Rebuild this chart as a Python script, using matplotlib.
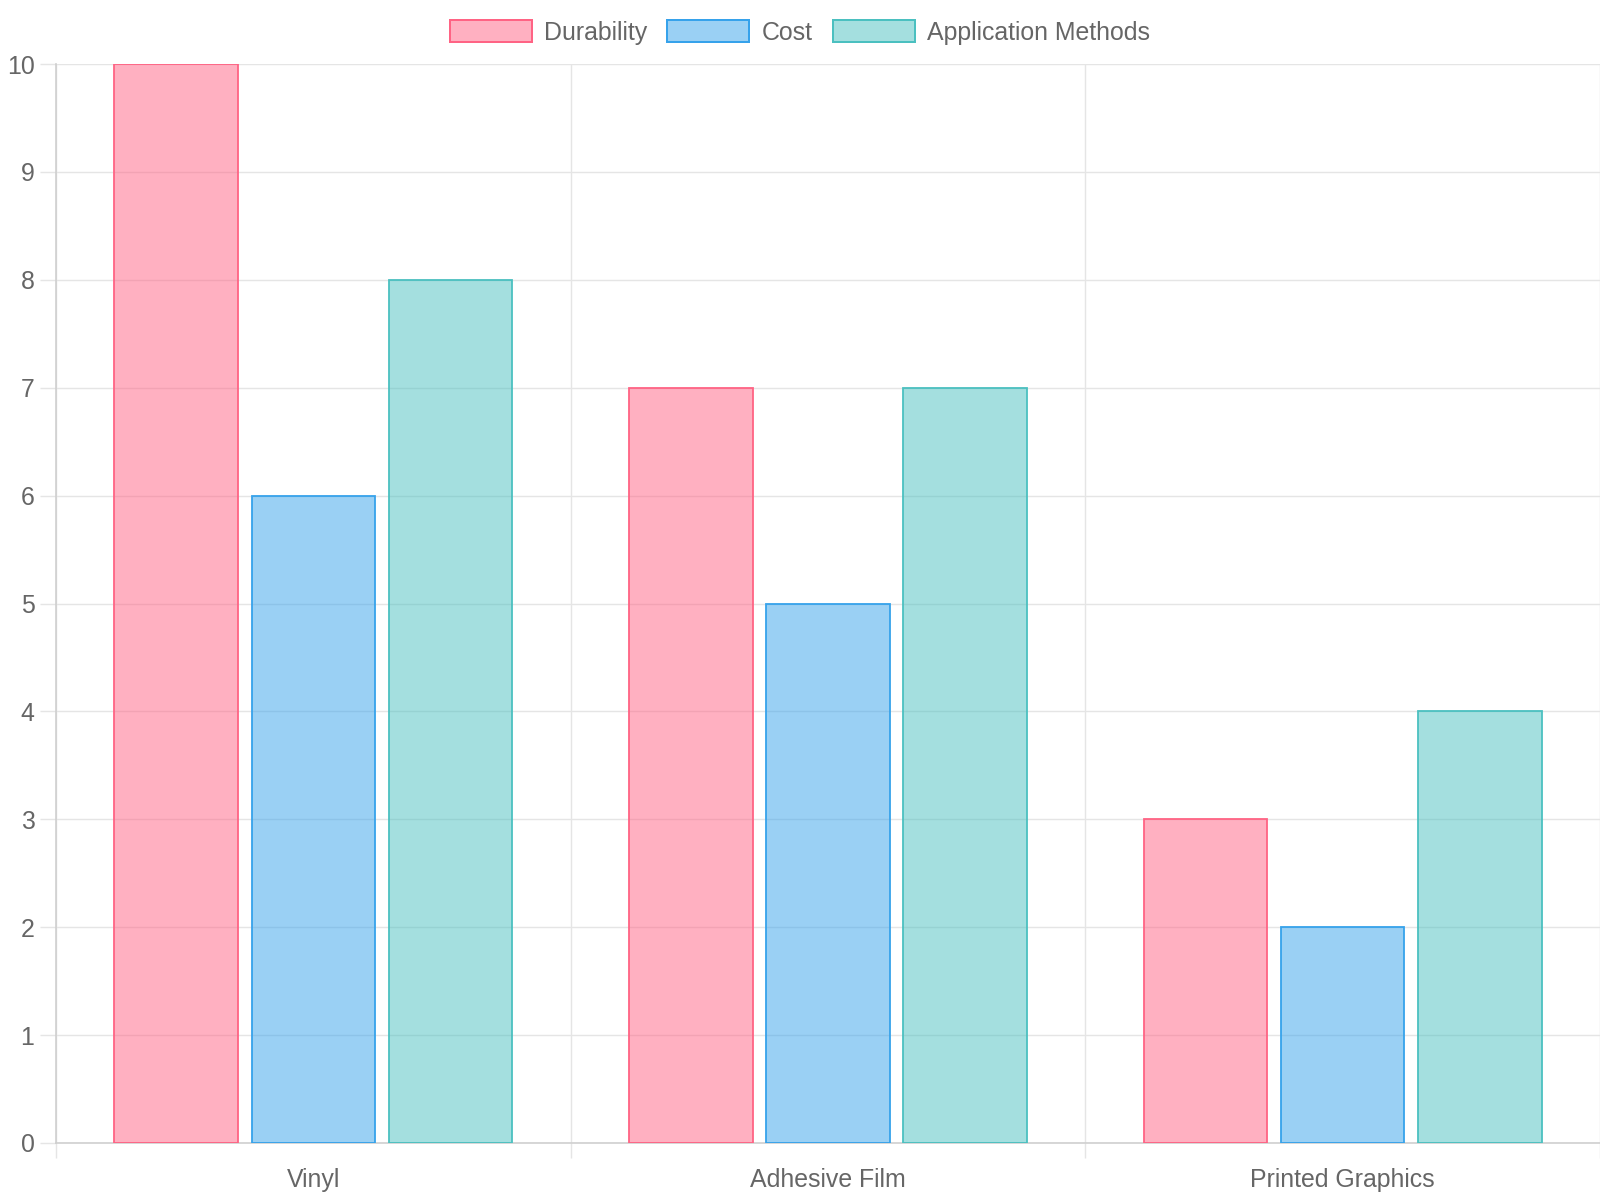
import numpy as np
import matplotlib.pyplot as plt
from matplotlib.patches import Patch

plt.rcParams['font.family'] = ['Liberation Sans', 'DejaVu Sans']

categories = ["Vinyl", "Adhesive Film", "Printed Graphics"]
series_names = ["Durability", "Cost", "Application Methods"]
durability = [10, 7, 3]
cost = [6, 5, 2]
application = [8, 7, 4]
y_ticks = [0, 1, 2, 3, 4, 5, 6, 7, 8, 9, 10]

edge_colors = [(1, 99/255, 132/255), (54/255, 162/255, 235/255), (75/255, 192/255, 192/255)]
fill_colors = [c + (0.5,) for c in edge_colors]

grid_col = "#e5e5e5"
axis_col = "#cfcfcf"
text_col = "#666666"
fs = 17.9

fig = plt.figure(figsize=(16, 12), dpi=100)
ax = fig.add_axes([56/1600, 1 - 1143/1200, 1 - 56/1600, (1143 - 64)/1200])

x = np.arange(len(categories)) + 0.5
slot = 0.8 / 3
bw = slot * 0.9
all_vals = [durability, cost, application]
for i, vals in enumerate(all_vals):
    ax.bar(x + (i - 1) * slot, vals, width=bw, color=fill_colors[i],
           edgecolor=edge_colors[i], linewidth=1.3, zorder=3)

ax.set_xlim(0, len(categories))
ax.set_ylim(0, 10)

ax.set_yticks(y_ticks)
ax.set_yticklabels([str(t) for t in y_ticks])
ax.set_xticks(x)
ax.set_xticklabels(categories)
ax.set_xticks(np.arange(len(categories) + 1), minor=True)

ax.tick_params(axis='y', length=11.5, width=1, color=grid_col, pad=4,
               labelsize=fs, labelcolor=text_col)
ax.tick_params(axis='x', which='major', length=0, pad=18,
               labelsize=fs, labelcolor=text_col)
ax.tick_params(axis='x', which='minor', length=11, width=1, color=grid_col)

ax.grid(axis='y', color=grid_col, linewidth=1, zorder=0)
ax.grid(axis='x', which='minor', color=grid_col, linewidth=1, zorder=0)
ax.set_axisbelow(True)

for s in ['top', 'right']:
    ax.spines[s].set_visible(False)
ax.spines['left'].set_color(axis_col)
ax.spines['bottom'].set_color(axis_col)
ax.spines['left'].set_linewidth(1.2)
ax.spines['bottom'].set_linewidth(1.2)

handles = [Patch(facecolor=fill_colors[i], edgecolor=edge_colors[i], linewidth=1.44)
           for i in range(3)]
leg = fig.legend(handles, series_names, loc='center', ncol=3, frameon=False,
                 bbox_to_anchor=(0.5, 1 - 32.5/1200), fontsize=fs,
                 handlelength=3.3, handleheight=1.0, handletextpad=0.5,
                 columnspacing=0.8)
for t in leg.get_texts():
    t.set_color(text_col)

fig.savefig("out.png", dpi=100)
